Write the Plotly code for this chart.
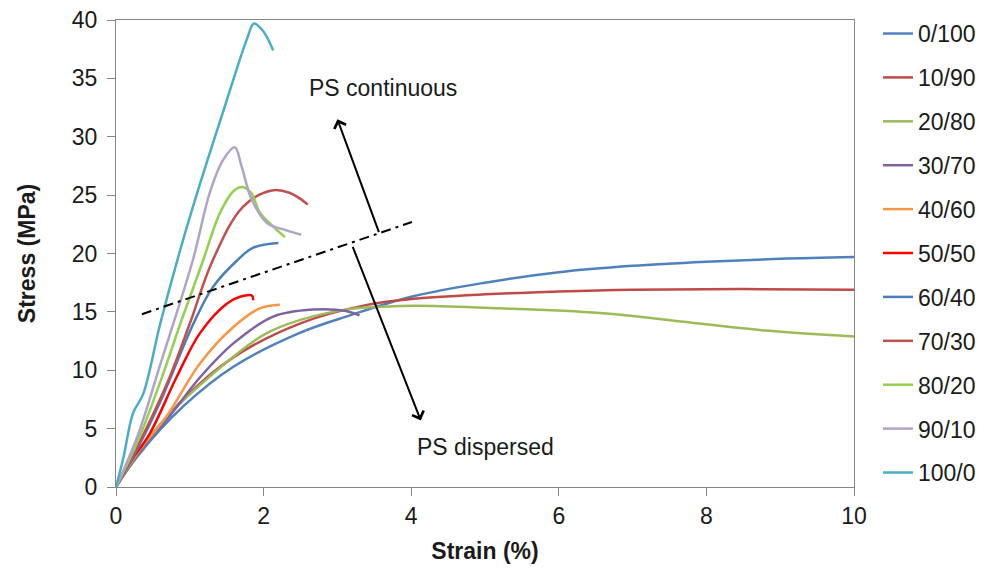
import plotly.graph_objects as go

# ---- data ----
names = ["0/100", "10/90", "20/80", "30/70", "40/60", "50/50",
         "60/40", "70/30", "80/20", "90/10", "100/0"]
colors = ["#4F81BD", "#BE4B48", "#9BBB59", "#7F63A1", "#F79646", "#FF0000",
          "#4A7EBB", "#C0504D", "#92D050", "#AFA3C8", "#4BACC6"]

x_0_100 = [0, 0.3, 0.91, 1.59, 2.49, 3.17, 4.0, 5.0, 6.0, 7.0, 8.0, 9.0, 10]
y_0_100 = [0, 2.7, 6.9, 10.3, 13.2, 14.7, 16.3, 17.5, 18.4, 18.95, 19.3, 19.55, 19.7]

x_10_90 = [0, 0.3, 0.91, 1.59, 2.49, 3.4, 4.0, 5.0, 6.0, 7.0, 8.5, 10]
y_10_90 = [0, 2.9, 7.5, 11.1, 14.0, 15.6, 16.1, 16.5, 16.75, 16.9, 16.95, 16.9]

x_20_80 = [0, 0.3, 0.69, 1.37, 2.05, 2.94, 3.85, 5.2, 6.56, 7.9, 8.8, 10]
y_20_80 = [0, 3.0, 6.0, 10.0, 13.2, 15.0, 15.5, 15.3, 14.9, 14.0, 13.4, 12.9]

x_30_70 = [0, 0.3, 0.69, 1.14, 1.59, 2.13, 2.67, 3.1, 3.3]
y_30_70 = [0, 3.0, 5.8, 9.4, 12.3, 14.6, 15.2, 15.1, 14.7]

x_40_60 = [0, 0.3, 0.69, 1.14, 1.59, 1.95, 2.22]
y_40_60 = [0, 3.0, 6.1, 10.6, 13.7, 15.3, 15.6]

x_50_50 = [0, 0.2, 0.46, 0.82, 1.14, 1.5, 1.68, 1.84, 1.86]
y_50_50 = [0, 2.2, 4.6, 9.4, 13.2, 15.7, 16.3, 16.4, 16.0]

x_60_40 = [0, 0.3, 0.6, 1.05, 1.31, 1.64, 1.86, 2.2]
y_60_40 = [0, 3.4, 7.3, 14.0, 17.1, 19.4, 20.5, 20.9]

x_70_30 = [0, 0.3, 0.7, 1.0, 1.31, 1.72, 2.11, 2.35, 2.6]
y_70_30 = [0, 3.6, 9.0, 14.0, 19.4, 24.0, 25.4, 25.2, 24.2]

x_80_20 = [0, 0.3, 0.6, 0.9, 1.18, 1.41, 1.6, 1.71, 1.83, 1.95, 2.15, 2.29]
y_80_20 = [0, 4.0, 9.0, 14.5, 19.4, 23.5, 25.4, 25.7, 25.2, 23.5, 22.2, 21.4]

x_90_10 = [0, 0.3, 0.6, 1.04, 1.27, 1.45, 1.61, 1.7, 1.84, 2.05, 2.3, 2.51]
y_90_10 = [0, 4.5, 10.5, 19.4, 25.2, 28.0, 29.1, 27.5, 24.6, 22.6, 22.0, 21.6]

x_100_0 = [0, 0.1, 0.23, 0.37, 0.6, 0.87, 1.14, 1.5, 1.77, 1.87, 2.0, 2.13]
y_100_0 = [0, 2.5, 6.3, 8.0, 14.0, 20.3, 26.0, 33.1, 38.3, 39.7, 39.0, 37.4]

series_x = [x_0_100, x_10_90, x_20_80, x_30_70, x_40_60, x_50_50,
            x_60_40, x_70_30, x_80_20, x_90_10, x_100_0]
series_y = [y_0_100, y_10_90, y_20_80, y_30_70, y_40_60, y_50_50,
            y_60_40, y_70_30, y_80_20, y_90_10, y_100_0]

# boundary (dash-dot) line between regimes
boundary_x = [0.35, 4.01]
boundary_y = [14.8, 22.7]

# arrows: (tail_x, tail_y, head_x, head_y)
arrow_up = [3.57, 21.7, 3.0, 31.5]
arrow_down = [3.2, 20.7, 4.13, 5.7]

label_up = ("PS continuous", 3.62, 34.2)
label_down = ("PS dispersed", 5.01, 3.4)

x_ticks = [0, 2, 4, 6, 8, 10]
y_ticks = [0, 5, 10, 15, 20, 25, 30, 35, 40]

FONT = "Liberation Sans, Arial, sans-serif"
TXT = "#1a1a1a"

fig = go.Figure()
for i, (nm, c, xs, ys) in enumerate(zip(names, colors, series_x, series_y)):
    fig.add_trace(go.Scatter(
        x=xs, y=ys, name=nm, mode="lines",
        line=dict(color=c, width=2.5, shape="spline", smoothing=1.0),
        legendgroup="g%d" % i,
    ))

fig.add_trace(go.Scatter(
    x=boundary_x, y=boundary_y, mode="lines", showlegend=False,
    line=dict(color="black", width=2, dash="10px,5px,3px,5px"),
    hoverinfo="skip",
))

for tx, ty, hx, hy in (arrow_up, arrow_down):
    fig.add_annotation(x=hx, y=hy, ax=tx, ay=ty, xref="x", yref="y",
                       axref="x", ayref="y", showarrow=True, text="",
                       arrowhead=4, arrowsize=1.2, arrowwidth=2,
                       arrowcolor="black", standoff=0, startstandoff=0)

for txt, lx, ly in (label_up, label_down):
    fig.add_annotation(x=lx, y=ly, xref="x", yref="y", text=txt,
                       showarrow=False, font=dict(family=FONT, size=23, color=TXT))

axis_common = dict(showgrid=False, zeroline=False, showline=True,
                   linecolor="#868686", linewidth=1.3, mirror=True,
                   ticks="outside", ticklen=8, tickcolor="#868686", tickwidth=1.3,
                   automargin=False, ticklabeloverflow="allow",
                   tickfont=dict(family=FONT, size=23, color=TXT))

fig.update_layout(
    width=976, height=567,
    margin=dict(l=108, r=130, t=12, b=88, autoexpand=False),
    paper_bgcolor="white", plot_bgcolor="white",
    xaxis=dict(range=[0, 10], tickvals=x_ticks, ticklabelstandoff=0,
               title=dict(text="<b>Strain (%)</b>", standoff=15,
                          font=dict(family=FONT, size=23, color=TXT)),
               **axis_common),
    yaxis=dict(range=[0, 40], tickvals=y_ticks, ticklabelstandoff=5,
               title=dict(text="<b>Stress (MPa)</b>", standoff=29,
                          font=dict(family=FONT, size=23, color=TXT)),
               **axis_common),
    legend=dict(x=1.0325, xanchor="left", y=1.017, yanchor="top",
                font=dict(family=FONT, size=23, color=TXT),
                tracegroupgap=11, itemwidth=30, bgcolor="rgba(0,0,0,0)",
                maxheight=560),
    showlegend=True,
)

fig.write_html("out.html")
